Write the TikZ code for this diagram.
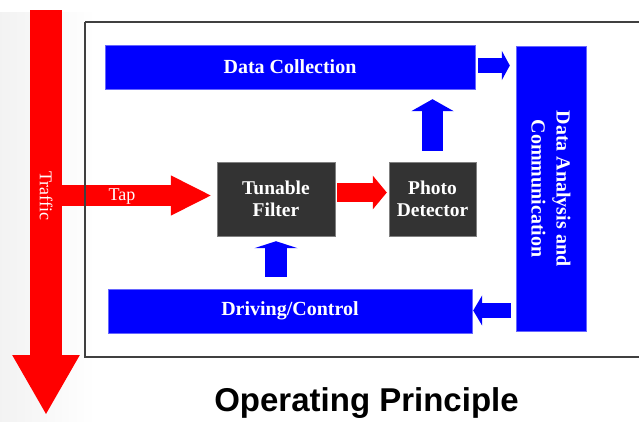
\documentclass[tikz,border=0pt]{standalone}
\usepackage{fontspec}
\setmainfont{Liberation Serif}
\newfontfamily\titlefont{Liberation Sans}
\usetikzlibrary{arrows.meta}
\definecolor{bblue}{HTML}{0000FF}
\definecolor{rred}{HTML}{FF0000}
\definecolor{dgray}{HTML}{333333}
\tikzset{
  x=1pt, y=-1pt,
  bluebox/.style={fill=bblue, draw=bblue!60!white, line width=0.4pt, inner sep=0pt, text=white,
    font=\bfseries\fontsize{20}{25}\selectfont, align=center},
  darkbox/.style={fill=dgray, draw=gray, line width=0.4pt, inner sep=0pt, text=white,
    minimum width=#1, minimum height=74pt, font=\bfseries\fontsize{19.5}{22}\selectfont, align=center},
  blockarrow/.style n args={4}{draw=#4, line width=#1, -{Triangle[width=#2,length=#3,fill=#4]}},
  lbl/.style={text=white, font=\fontsize{18}{20}\selectfont, inner sep=0pt}
}
\begin{document}
\begin{tikzpicture}
\useasboundingbox (0,0) rectangle (639,421);
\shade[left color=black!5, right color=white] (0,12) rectangle (95,421);
\fill[white] (95,0) rectangle (639,20);
% blocks
\node[bluebox, minimum width=370pt, minimum height=44pt] (DC) at (290,67) {Data Collection};
\node[bluebox, minimum width=364pt, minimum height=44pt] (DR) at (290,311) {Driving/Control};
\node[bluebox, minimum width=70pt, minimum height=285pt] (DA) at (551,188.5) {};
\node[text=white, font=\bfseries\fontsize{20}{25}\selectfont, align=center, rotate=-90] (DAt) at (DA.center) {Data Analysis and\\Communication};
\node[darkbox=118pt] (TF) at (276,199) {Tunable\\Filter};
\node[darkbox=87pt] (PD) at (432.5,199) {Photo\\Detector};
% traffic arrow
\coordinate (trafTop) at (46,10);
\coordinate (trafEnd) at (46,415);
\coordinate (tapS) at (46,195.5);
\draw[blockarrow={21pt}{37pt}{41pt}{rred}, shorten >=5pt] (tapS) -- (tapS -| TF.west);
\draw[blockarrow={32pt}{63pt}{60pt}{rred}] (trafTop) -- (trafEnd);
\node[lbl, rotate=-90] (traffic) at (46,196) {Traffic};
\node[lbl] (tap) at (122,197) {Tap};
% connectors
\draw[blockarrow={19pt}{33pt}{14pt}{rred}, shorten <=2pt, shorten >=2pt] ([yshift=6.5pt]TF.east) -- ([yshift=6.5pt]PD.west);
\draw[blockarrow={15pt}{29pt}{8pt}{bblue}, shorten <=3pt, shorten >=6pt] ([yshift=1.5pt]DC.east) -- ([yshift=1.5pt]DC.east -| DA.west);
\draw[blockarrow={15pt}{30pt}{9pt}{bblue}, shorten <=5pt, shorten >=1pt] ([yshift=0.5pt]DR.east -| DA.west) -- ([yshift=0.5pt]DR.east);
\draw[blockarrow={22pt}{43pt}{7pt}{bblue}, shorten <=12pt, shorten >=5pt] (TF.south |- DR.north) -- (TF.south);
\draw[blockarrow={21pt}{42pt}{12pt}{bblue}, shorten <=11pt, shorten >=10pt] (PD.north) -- (PD.north |- DC.south);
% frame
\draw[black!75, line width=1.6pt] (85,22) -- (645,22);
\draw[black!75, line width=1.6pt] (645,357) -- (85,357) -- (85,22);
% title
\node[font=\titlefont\bfseries\fontsize{33}{36}\selectfont, anchor=base] (title) at (366.5,411) {Operating Principle};
\end{tikzpicture}
\end{document}
